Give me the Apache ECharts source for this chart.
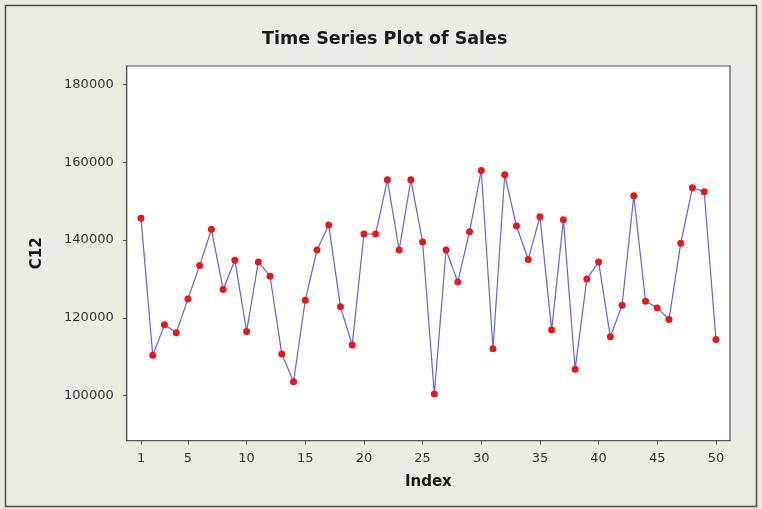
<!DOCTYPE html>
<html>
<head>
<meta charset="utf-8">
<script src="https://cdn.jsdelivr.net/npm/echarts@6/dist/echarts.min.js"></script>
<style>
html,body{margin:0;padding:0;background:#eeebe3;}
#chart{width:762px;height:509px;}
</style>
</head>
<body>
<div id="chart"></div>
<script>
var indexValues = [1,2,3,4,5,6,7,8,9,10,11,12,13,14,15,16,17,18,19,20,21,22,23,24,25,26,27,28,29,30,31,32,33,34,35,36,37,38,39,40,41,42,43,44,45,46,47,48,49,50];
var sales = [145560,110360,118200,116150,124870,133430,142740,127280,134790,116510,
             134360,130690,110690,103590,124540,137430,143840,122820,113000,141540,
             141540,155480,137430,155480,139490,100440,137430,129230,142150,157870,
             112050,156760,143590,135000,146000,116850,145230,106770,130000,134360,
             115130,123250,151380,124280,122560,119590,139150,153430,152410,114460];
var xTicks = [1,5,10,15,20,25,30,35,40,45,50];
var yTicks = [100000,120000,140000,160000,180000];

var chart = echarts.init(document.getElementById('chart'));
var pts = indexValues.map(function(v,i){return [v, sales[i]];});
chart.setOption({
  animation:false,
  backgroundColor:'#eeebe3',
  title:{
    text:'Time Series Plot of Sales',
    left:262, top:30, padding:0,
    textStyle:{fontFamily:'DejaVu Sans', fontWeight:'bold', fontSize:17.5, color:'#1a1a1a'}
  },
  graphic:[{
    type:'rect', silent:true, z:-10,
    shape:{x:5.5,y:5.5,width:751,height:501},
    style:{fill:'none', stroke:'#4a4a4a', lineWidth:1.5}
  }],
  grid:{left:126.7, top:66, right:32, bottom:68.3, show:true, backgroundColor:'#ffffff', borderColor:'#555555', borderWidth:1.2},
  xAxis:{
    type:'value', min:-0.22, max:51.2,
    name:'Index', nameLocation:'middle', nameGap:34,
    nameTextStyle:{fontFamily:'DejaVu Sans', fontWeight:'bold', fontSize:15, color:'#1a1a1a'},
    axisLine:{show:true, onZero:false, lineStyle:{color:'#555555', width:1.2}},
    axisTick:{show:true, inside:false, length:4, customValues:xTicks, lineStyle:{color:'#555555'}},
    axisLabel:{customValues:xTicks, margin:11, fontFamily:'DejaVu Sans', fontSize:13, color:'#333333'},
    splitLine:{show:false}
  },
  yAxis:{
    type:'value', min:88440, max:184700,
    name:'C12', nameLocation:'middle', nameGap:82, nameRotate:90,
    nameTextStyle:{fontFamily:'DejaVu Sans', fontWeight:'bold', fontSize:15, color:'#1a1a1a'},
    axisLine:{show:true, onZero:false, lineStyle:{color:'#555555', width:1.2}},
    axisTick:{show:true, inside:false, length:4, customValues:yTicks, lineStyle:{color:'#555555'}},
    axisLabel:{customValues:yTicks, margin:13, fontFamily:'DejaVu Sans', fontSize:13, color:'#333333',
      formatter:function(v){return String(v);}},
    splitLine:{show:false}
  },
  series:[{
    type:'line', data:pts,
    lineStyle:{color:'#5f5ff0', width:1.2},
    symbol:'circle', symbolSize:7, showSymbol:true,
    itemStyle:{color:'#e31a1c', borderWidth:0}
  }]
});
</script>
</body>
</html>
